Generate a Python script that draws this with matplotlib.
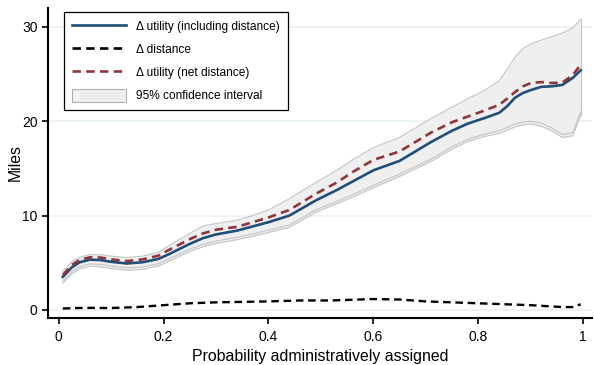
import matplotlib
matplotlib.use("Agg")
import matplotlib.pyplot as plt
from matplotlib.patches import Patch
from matplotlib.lines import Line2D

plt.rcParams["font.family"] = ["Liberation Sans", "DejaVu Sans"]

# Probability grid for the utility curves
prob = [0.008, 0.025, 0.04, 0.06, 0.08, 0.1, 0.13, 0.16, 0.19, 0.21,
        0.25, 0.275, 0.3, 0.34, 0.37, 0.4, 0.44, 0.49, 0.53, 0.56,
        0.6, 0.65, 0.71, 0.75, 0.78, 0.81, 0.84, 0.855, 0.87, 0.885,
        0.9, 0.92, 0.94, 0.96, 0.98, 0.995]

# Delta utility including distance (miles)
util_incl = [3.5, 4.5, 5.05, 5.33, 5.28, 5.1, 4.92, 5.05, 5.4, 5.9,
             7.0, 7.6, 8.0, 8.4, 8.85, 9.3, 10.0, 11.6, 12.7, 13.6,
             14.8, 15.8, 17.8, 19.0, 19.75, 20.3, 20.9, 21.6, 22.5, 23.0,
             23.3, 23.65, 23.7, 23.85, 24.6, 25.4]

# Delta utility net of distance (miles)
util_net = [3.7, 4.75, 5.3, 5.58, 5.55, 5.35, 5.18, 5.35, 5.75, 6.35,
            7.5, 8.1, 8.5, 8.8, 9.3, 9.8, 10.6, 12.3, 13.5, 14.6,
            15.9, 16.8, 18.8, 19.9, 20.5, 21.1, 21.75, 22.4, 23.1, 23.7,
            24.05, 24.15, 24.05, 24.1, 24.9, 26.0]

# 95% confidence bounds
ci_upper = [4.1, 5.1, 5.6, 5.85, 5.85, 5.7, 5.55, 5.7, 6.1, 6.8,
            8.1, 8.9, 9.15, 9.5, 10.0, 10.6, 11.8, 13.5, 14.8, 15.9,
            17.2, 18.3, 20.3, 21.5, 22.4, 23.2, 24.3, 25.5, 26.8, 27.7,
            28.2, 28.6, 28.95, 29.35, 29.9, 30.8]
ci_lower = [3.05, 4.05, 4.6, 4.88, 4.82, 4.65, 4.45, 4.55, 4.9, 5.4,
            6.45, 6.95, 7.3, 7.7, 8.05, 8.45, 9.0, 10.6, 11.5, 12.2,
            13.2, 14.4, 16.0, 17.3, 18.1, 18.6, 19.0, 19.35, 19.7, 19.9,
            20.0, 19.8, 19.3, 18.6, 18.8, 21.0]
ci_lower_net = [2.85, 3.8, 4.35, 4.62, 4.56, 4.4, 4.2, 4.3, 4.65, 5.15,
                6.2, 6.7, 7.05, 7.45, 7.8, 8.2, 8.75, 10.35, 11.25, 11.95,
                12.95, 14.15, 15.75, 17.05, 17.85, 18.35, 18.72, 19.05, 19.4, 19.6,
                19.7, 19.48, 18.98, 18.28, 18.45, 20.65]

# Delta distance (miles)
prob_dist = [0.008, 0.05, 0.1, 0.15, 0.2, 0.25, 0.3, 0.4, 0.46, 0.52,
             0.6, 0.65, 0.7, 0.8, 0.9, 0.96, 0.98, 0.995]
dist = [0.15, 0.22, 0.2, 0.3, 0.5, 0.7, 0.8, 0.9, 1.0, 1.0,
        1.15, 1.1, 0.9, 0.7, 0.5, 0.3, 0.3, 0.6]

blue = "#1f4e79"
maroon = "#90353b"
band = "#efefef"
edge = "#c4c4c4"

fig = plt.figure(figsize=(5.94, 3.65), dpi=100)
ax = fig.add_axes([0.081, 0.129, 0.916, 0.849])

ax.fill_between(prob, ci_lower_net, ci_upper, color=band, lw=0, zorder=1)
ax.plot(prob, ci_upper, color=edge, lw=0.8, zorder=2)
ax.plot(prob, ci_lower, color=edge, lw=0.8, zorder=2)
ax.plot(prob, ci_lower_net, color=edge, lw=0.8, zorder=2)
ax.plot([prob[-1], prob[-1]], [ci_lower_net[-1], ci_upper[-1]], color=edge, lw=0.8, zorder=2)

ax.plot(prob, util_incl, color=blue, lw=1.9, zorder=4)
ax.plot(prob_dist, dist, color="black", lw=1.7, dashes=(3.2, 2.0), zorder=4)
ax.plot(prob, util_net, color=maroon, lw=1.9, dashes=(3.2, 2.0), zorder=5)

ax.set_xlim(-0.02, 1.017)
ax.set_ylim(-0.85, 32)
ax.set_xticks([0, 0.2, 0.4, 0.6, 0.8, 1])
ax.set_xticklabels(["0", "0.2", "0.4", "0.6", "0.8", "1"])
ax.set_yticks([0, 10, 20, 30])
ax.grid(axis="y", color="#e6f0f2", lw=1.1, zorder=0)
ax.set_axisbelow(True)

for side in ["top", "right"]:
    ax.spines[side].set_visible(False)
for side in ["left", "bottom"]:
    ax.spines[side].set_linewidth(1.5)
ax.tick_params(axis="both", labelsize=10, length=4, width=1.2, direction="out")
ax.tick_params(axis="x", pad=5)

ax.set_xlabel("Probability administratively assigned", fontsize=11.4, labelpad=3)
ax.set_ylabel("Miles", fontsize=11.4)
ax.yaxis.set_label_coords(-0.046, 0.5)

handles = [
    Line2D([], [], color=blue, lw=1.9),
    Line2D([], [], color="black", lw=1.9, dashes=(3.2, 2.0)),
    Line2D([], [], color=maroon, lw=1.9, dashes=(3.2, 2.0)),
    Patch(facecolor=band, edgecolor="#b0b0b0", lw=0.8),
]
labels = ["Δ utility (including distance)", "Δ distance",
          "Δ utility (net distance)", "95% confidence interval"]
leg = ax.legend(handles, labels, loc="upper left",
                bbox_to_anchor=(64 / 594, 1 - 12 / 365),
                bbox_transform=fig.transFigure, borderaxespad=0,
                fontsize=8.6, handlelength=4.5, handleheight=1.35,
                handletextpad=0.9, labelspacing=0.78, borderpad=0.65,
                fancybox=False, framealpha=1, edgecolor="black")
leg.get_frame().set_linewidth(0.9)

fig.savefig("out.png", dpi=100)
